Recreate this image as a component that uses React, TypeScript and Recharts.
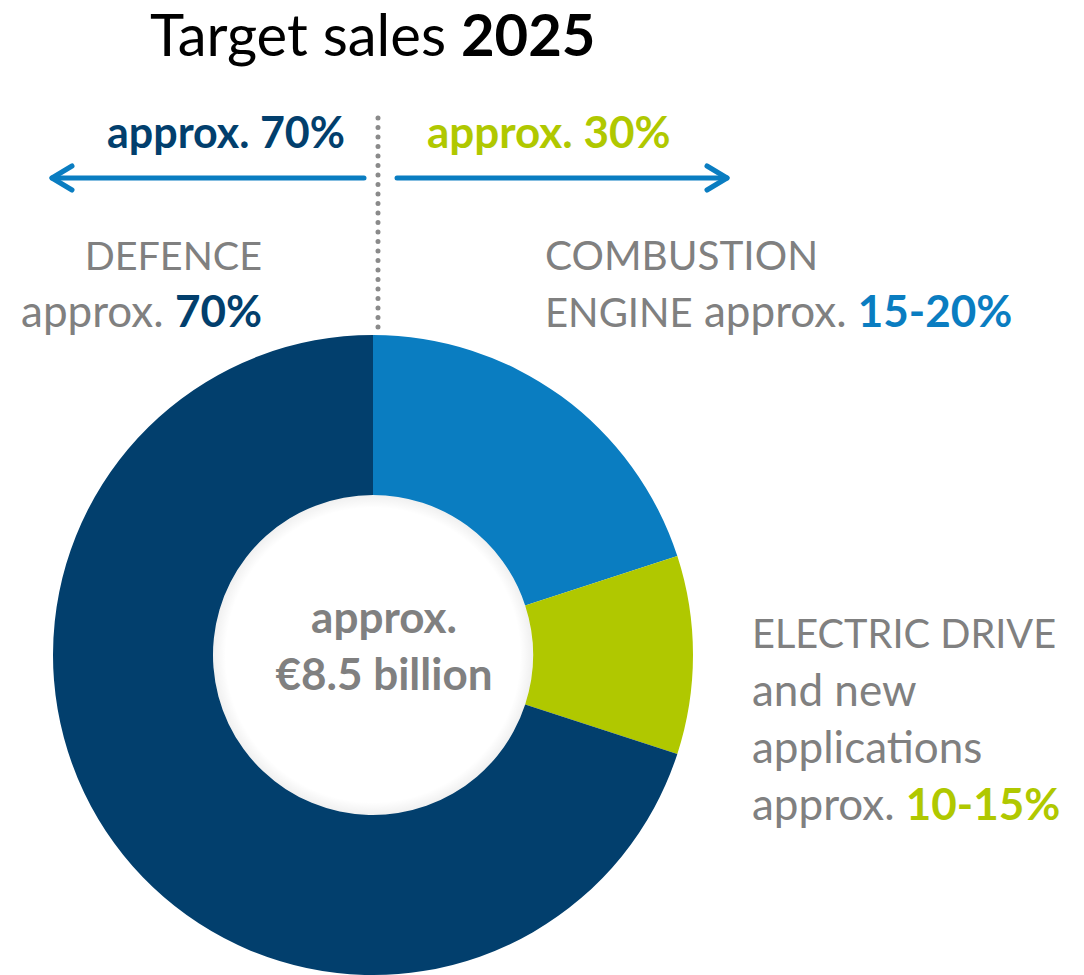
import { PieChart, Pie, Cell } from "recharts";

// slices clockwise from 12 o'clock
const segments = ["COMBUSTION ENGINE", "ELECTRIC DRIVE", "DEFENCE"];
const shares = [20, 10, 70];
const colors = ["#0a7dc1", "#b0c800", "#023f6d"];

const title = "Target sales";
const titleYear = "2025";
const totalLine1 = "approx.";
const totalLine2 = "€8.5 billion";

const GRAY = "#808080";
const FONT = "Lato, 'Open Sans', sans-serif";
const CX = 373;
const CY = 655;
const INNER = 160;

const data = segments.map((name, i) => ({ name, value: shares[i] }));

export default function App() {
  return (
    <div style={{ position: "absolute", left: 0, top: 0, width: 1084, height: 975, background: "#fff" }}>
      <PieChart width={1084} height={975} margin={{ top: 0, right: 0, bottom: 0, left: 0 }}>
        <Pie
          data={data}
          dataKey="value"
          cx={CX}
          cy={CY}
          innerRadius={INNER}
          outerRadius={320}
          startAngle={90}
          endAngle={-270}
          stroke="none"
          isAnimationActive={false}
        >
          {data.map((d, i) => (
            <Cell key={d.name} fill={colors[i]} />
          ))}
        </Pie>
      </PieChart>
      <svg
        width={1084}
        height={975}
        style={{ position: "absolute", left: 0, top: 0, pointerEvents: "none" }}
        fontFamily={FONT}
      >
        <defs>
          <radialGradient id="holeShade" cx="0.5" cy="0.5" r="0.5">
            <stop offset="0.92" stopColor="#000" stopOpacity={0} />
            <stop offset="1" stopColor="#000" stopOpacity={0.06} />
          </radialGradient>
        </defs>
        <circle cx={CX} cy={CY} r={INNER} fill="url(#holeShade)" />

        <text x={150} y={56} fontSize={58} fill="#000">
          {title} <tspan fontWeight="bold">{titleYear}</tspan>
        </text>

        <text x={345} y={148} fontSize={43} fontWeight="bold" fill={colors[2]} textAnchor="end">
          approx. 70%
        </text>
        <text x={427} y={148} fontSize={44} fontWeight="bold" fill={colors[1]}>
          approx. 30%
        </text>

        <line x1={378} y1={118} x2={378} y2={330} stroke="#8a8a8a" strokeWidth={5} strokeDasharray="0 9.5" strokeLinecap="round" />

        <g stroke={colors[0]} strokeWidth={5} strokeLinecap="round" strokeLinejoin="round" fill="none">
          <line x1={52} y1={178} x2={364} y2={178} />
          <polyline points="72,166 52,178 72,190" />
          <line x1={397} y1={178} x2={727} y2={178} />
          <polyline points="707,166 727,178 707,190" />
        </g>

        <text x={262} y={270} fontSize={39.5} fill={GRAY} textAnchor="end">DEFENCE</text>
        <text x={262} y={327} fontSize={44} fill={GRAY} textAnchor="end">
          approx. <tspan fontWeight="bold" fill={colors[2]}>70%</tspan>
        </text>

        <text x={545} y={270} fontSize={40.5} fill={GRAY}>COMBUSTION</text>
        <text x={545} y={327} fontSize={44} fill={GRAY}>
          <tspan fontSize={40}>ENGINE</tspan> approx. <tspan fontWeight="bold" fill={colors[0]}>15-20%</tspan>
        </text>

        <text x={752} y={648} fontSize={39.7} fill={GRAY}>ELECTRIC DRIVE</text>
        <text x={752} y={706} fontSize={44} fill={GRAY}>and new</text>
        <text x={752} y={763} fontSize={44} fill={GRAY}>applications</text>
        <text x={752} y={820} fontSize={44} fill={GRAY}>
          approx. <tspan fontWeight="bold" fill={colors[1]}>10-15%</tspan>
        </text>

        <text x={384} y={633} fontSize={44} fontWeight="bold" fill={GRAY} textAnchor="middle">{totalLine1}</text>
        <text x={384} y={690} fontSize={44} fontWeight="bold" fill={GRAY} textAnchor="middle">{totalLine2}</text>
      </svg>
    </div>
  );
}
